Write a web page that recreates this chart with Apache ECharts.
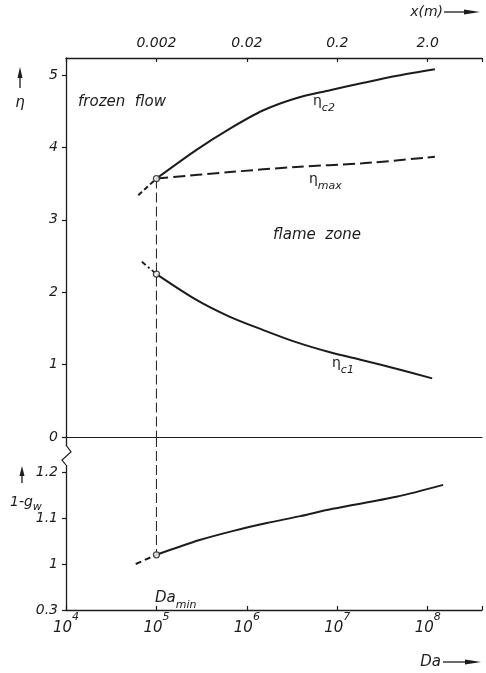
<!DOCTYPE html>
<html><head><meta charset="utf-8">
<script src="https://cdn.jsdelivr.net/npm/echarts@6/dist/echarts.min.js"></script>
<style>html,body{margin:0;padding:0;background:#fff}#c{width:486px;height:673px}</style>
</head><body><div id="c"></div>
<script>
// ---- data ----
const daC2 = [1e5, 2.8e5, 6.5e5, 1.5e6, 3.5e6, 8.3e6, 1.9e7, 4.6e7, 1.2e8];
const etaC2 = [3.57, 3.97, 4.26, 4.51, 4.68, 4.79, 4.89, 4.99, 5.08];
const daC2Ext = [6.3e4, 1e5];
const etaC2Ext = [3.34, 3.57];
const daMax = [1e5, 6.5e5, 3.5e6, 1.9e7, 1.2e8];
const etaMax = [3.57, 3.66, 3.73, 3.78, 3.87];
const daC1 = [1e5, 2.8e5, 6.5e5, 1.5e6, 3.5e6, 8.3e6, 1.9e7, 4.6e7, 1.12e8];
const etaC1 = [2.25, 1.89, 1.66, 1.48, 1.31, 1.17, 1.06, 0.94, 0.81];
const daC1Ext = [6.9e4, 1e5];
const etaC1Ext = [2.42, 2.25];
const daGw = [1e5, 3.0e5, 7.1e5, 1.66e6, 3.9e6, 8.9e6, 4.5e7, 1.48e8];
const gw = [1.02, 1.052, 1.072, 1.089, 1.104, 1.12, 1.146, 1.172];
const daGwExt = [5.9e4, 1e5];
const gwExt = [1.0, 1.02];
const daMin = 1e5;
const etaTicks = [0, 1, 2, 3, 4, 5];
const gwTicks = [0.9, 1.0, 1.1, 1.2];
const gwTickLabels = ['0.3', '1', '1.1', '1.2'];
const topTickLabels = {5: '0.002', 6: '0.02', 7: '0.2', 8: '2.0'};
const daMinAxis = 1e4, daMaxAxis = Math.pow(10, 8.6);
const etaMaxAxis = 5.235;
const gwMinAxis = 0.9, gwMaxAxis = 1.276;

const zip = (a, b) => a.map((v, i) => [v, b[i]]);
const INK = '#1c1c1c';
const FONT = 'DejaVu Sans';
const txt = {fontFamily: FONT, fontStyle: 'italic', color: INK};

function expOf(v) { const e = Math.log10(v); const r = Math.round(e); return Math.abs(e - r) < 1e-6 ? r : null; }

const chart = echarts.init(document.getElementById('c'), null, {renderer: 'canvas'});
const option = {
  backgroundColor: '#fff',
  animation: false,
  grid: [
    {left: 66, top: 58, width: 416, height: 379},
    {left: 66, top: 437, width: 416, height: 173}
  ],
  xAxis: [
    {gridIndex: 0, type: 'log', logBase: 10, min: daMinAxis, max: daMaxAxis, position: 'bottom',
     axisLine: {show: true, onZero: false, lineStyle: {color: INK, width: 1.2}},
     axisTick: {show: false}, axisLabel: {show: false}, splitLine: {show: false}},
    {gridIndex: 0, type: 'log', logBase: 10, min: daMinAxis, max: daMaxAxis, position: 'top',
     axisLine: {show: true, onZero: false, lineStyle: {color: INK, width: 1.3}},
     axisTick: {show: true, inside: true, length: 4, lineStyle: {color: INK, width: 1.2}},
     axisLabel: {show: true, margin: 8, fontSize: 14, ...txt,
       formatter: v => { const e = expOf(v); return (e !== null && topTickLabels[e]) ? topTickLabels[e] : ''; }},
     splitLine: {show: false}},
    {gridIndex: 1, type: 'log', logBase: 10, min: daMinAxis, max: daMaxAxis, position: 'bottom',
     axisLine: {show: true, onZero: false, lineStyle: {color: INK, width: 1.3}},
     axisTick: {show: true, inside: true, length: 4, lineStyle: {color: INK, width: 1.2}},
     axisLabel: {show: true, margin: 2, ...txt,
       formatter: v => { const e = expOf(v); return e === null ? '' : '{b|10}{e|' + e + '}'; },
       rich: {
         b: {fontSize: 15, fontFamily: FONT, fontStyle: 'italic', color: INK, lineHeight: 24, verticalAlign: 'bottom'},
         e: {fontSize: 11, fontFamily: FONT, fontStyle: 'italic', color: INK, lineHeight: 24, verticalAlign: 'top'}
       }},
     splitLine: {show: false}}
  ],
  yAxis: [
    {gridIndex: 0, type: 'value', min: 0, max: etaMaxAxis,
     axisLine: {show: true, onZero: false, lineStyle: {color: INK, width: 1.3}},
     axisTick: {show: true, length: 4, customValues: etaTicks, lineStyle: {color: INK, width: 1.2}},
     axisLabel: {show: true, margin: 8, fontSize: 14, ...txt, customValues: etaTicks, formatter: v => String(v)},
     splitLine: {show: false}},
    {gridIndex: 1, type: 'value', min: gwMinAxis, max: gwMaxAxis,
     axisLine: {show: true, onZero: false, lineStyle: {color: INK, width: 1.3}},
     axisTick: {show: true, length: 4, customValues: gwTicks, lineStyle: {color: INK, width: 1.2}},
     axisLabel: {show: true, margin: 8, fontSize: 14, ...txt, customValues: gwTicks,
       formatter: v => { const i = gwTicks.findIndex(t => Math.abs(t - v) < 1e-6); return i >= 0 ? gwTickLabels[i] : ''; }},
     splitLine: {show: false}}
  ],
  series: [
    {name: 'eta_c2', type: 'line', xAxisIndex: 0, yAxisIndex: 0, data: zip(daC2, etaC2), smooth: 0.3,
     symbol: 'none', lineStyle: {color: INK, width: 2}},
    {name: 'eta_c2 ext', type: 'line', xAxisIndex: 0, yAxisIndex: 0, data: zip(daC2Ext, etaC2Ext),
     symbol: 'none', lineStyle: {color: INK, width: 2, type: [5, 3]}},
    {name: 'eta_max', type: 'line', xAxisIndex: 0, yAxisIndex: 0, data: zip(daMax, etaMax), smooth: 0.3,
     symbol: 'none', lineStyle: {color: INK, width: 2, type: [12, 5]}},
    {name: 'eta_c1', type: 'line', xAxisIndex: 0, yAxisIndex: 0, data: zip(daC1, etaC1), smooth: 0.3,
     symbol: 'none', lineStyle: {color: INK, width: 2}},
    {name: 'eta_c1 ext', type: 'line', xAxisIndex: 0, yAxisIndex: 0, data: zip(daC1Ext, etaC1Ext),
     symbol: 'none', lineStyle: {color: INK, width: 1.8, type: [5, 3, 2, 3]}},
    {name: 'Da_min upper', type: 'line', xAxisIndex: 0, yAxisIndex: 0,
     data: [[daMin, etaC2[0]], [daMin, 0]], symbol: 'none', lineStyle: {color: INK, width: 1, type: [10, 4]}},
    {name: 'gw', type: 'line', xAxisIndex: 2, yAxisIndex: 1, data: zip(daGw, gw), smooth: 0.3,
     symbol: 'none', lineStyle: {color: INK, width: 2}},
    {name: 'gw ext', type: 'line', xAxisIndex: 2, yAxisIndex: 1, data: zip(daGwExt, gwExt),
     symbol: 'none', lineStyle: {color: INK, width: 2, type: [6, 4]}},
    {name: 'Da_min lower', type: 'line', xAxisIndex: 2, yAxisIndex: 1,
     data: [[daMin, gwMaxAxis], [daMin, gw[0]]], symbol: 'none', lineStyle: {color: INK, width: 1, type: [10, 4]}},
    {name: 'pts upper', type: 'scatter', xAxisIndex: 0, yAxisIndex: 0, z: 5,
     data: [[daMin, etaC2[0]], [daMin, etaC1[0]]], symbol: 'circle', symbolSize: 6,
     itemStyle: {color: '#fff', borderColor: INK, borderWidth: 1.3}},
    {name: 'pts lower', type: 'scatter', xAxisIndex: 2, yAxisIndex: 1, z: 5,
     data: [[daMin, gw[0]]], symbol: 'circle', symbolSize: 6,
     itemStyle: {color: '#fff', borderColor: INK, borderWidth: 1.3}}
  ],
  graphic: [
    // axis break on left axis
    {type: 'rect', z: 100, shape: {x: 61, y: 446, width: 11, height: 19}, style: {fill: '#fff'}},
    {type: 'polyline', z: 101, shape: {points: [[66, 445], [71, 452], [62, 460], [66, 465]]},
     style: {stroke: INK, lineWidth: 1.2, fill: null}},
    // x(m) label and arrow
    {type: 'text', z: 100, style: {text: 'x(m)', x: 443, y: 12, align: 'right', verticalAlign: 'middle',
      font: 'italic 14px "DejaVu Sans"', fill: INK}},
    {type: 'line', z: 100, shape: {x1: 444, y1: 12, x2: 468, y2: 12}, style: {stroke: INK, lineWidth: 1.3}},
    {type: 'polygon', z: 100, shape: {points: [[464, 9.5], [480, 12], [464, 14.5]]}, style: {fill: INK}},
    // eta axis title + arrow
    {type: 'line', z: 100, shape: {x1: 20, y1: 88, x2: 20, y2: 74}, style: {stroke: INK, lineWidth: 1.3}},
    {type: 'polygon', z: 100, shape: {points: [[17.5, 78], [20, 67], [22.5, 78]]}, style: {fill: INK}},
    {type: 'text', z: 100, style: {text: 'η', x: 20, y: 103, align: 'center', verticalAlign: 'middle',
      font: 'italic 15px "DejaVu Sans"', fill: INK}},
    // 1-gw title + arrow
    {type: 'line', z: 100, shape: {x1: 22, y1: 483, x2: 22, y2: 472}, style: {stroke: INK, lineWidth: 1.3}},
    {type: 'polygon', z: 100, shape: {points: [[19.5, 476], [22, 466], [24.5, 476]]}, style: {fill: INK}},
    {type: 'text', z: 100, style: {text: '{a|1-g}{s|w}', x: 10, y: 502, align: 'left', verticalAlign: 'middle',
      rich: {a: {fontSize: 14, fontFamily: FONT, fontStyle: 'italic', fill: INK, lineHeight: 22, verticalAlign: 'middle'},
             s: {fontSize: 11, fontFamily: FONT, fontStyle: 'italic', fill: INK, lineHeight: 22, verticalAlign: 'bottom'}}}},
    // region labels
    {type: 'text', z: 100, style: {text: 'frozen  flow', x: 78, y: 102, align: 'left', verticalAlign: 'middle',
      font: 'italic 15px "DejaVu Sans"', fill: INK}},
    {type: 'text', z: 100, style: {text: 'flame  zone', x: 273, y: 235, align: 'left', verticalAlign: 'middle',
      font: 'italic 15px "DejaVu Sans"', fill: INK}},
    // curve labels
    {type: 'text', z: 100, style: {text: '{a|η}{s|c2}', x: 313, y: 104, align: 'left', verticalAlign: 'middle',
      rich: {a: {fontSize: 14, fontFamily: FONT, fill: INK, lineHeight: 20, verticalAlign: 'top'},
             s: {fontSize: 11, fontFamily: FONT, fontStyle: 'italic', fill: INK, lineHeight: 20, verticalAlign: 'bottom'}}}},
    {type: 'text', z: 100, style: {text: '{a|η}{s|max}', x: 309, y: 182, align: 'left', verticalAlign: 'middle',
      rich: {a: {fontSize: 14, fontFamily: FONT, fill: INK, lineHeight: 20, verticalAlign: 'top'},
             s: {fontSize: 11, fontFamily: FONT, fontStyle: 'italic', fill: INK, lineHeight: 20, verticalAlign: 'bottom'}}}},
    {type: 'text', z: 100, style: {text: '{a|η}{s|c1}', x: 332, y: 366, align: 'left', verticalAlign: 'middle',
      rich: {a: {fontSize: 14, fontFamily: FONT, fill: INK, lineHeight: 20, verticalAlign: 'top'},
             s: {fontSize: 11, fontFamily: FONT, fontStyle: 'italic', fill: INK, lineHeight: 20, verticalAlign: 'bottom'}}}},
    {type: 'text', z: 100, style: {text: '{a|Da}{s|min}', x: 155, y: 601, align: 'left', verticalAlign: 'middle',
      rich: {a: {fontSize: 15, fontFamily: FONT, fontStyle: 'italic', fill: INK, lineHeight: 20, verticalAlign: 'top'},
             s: {fontSize: 11, fontFamily: FONT, fontStyle: 'italic', fill: INK, lineHeight: 20, verticalAlign: 'bottom'}}}},
    // Da axis title + arrow
    {type: 'text', z: 100, style: {text: 'Da', x: 441, y: 662, align: 'right', verticalAlign: 'middle',
      font: 'italic 15px "DejaVu Sans"', fill: INK}},
    {type: 'line', z: 100, shape: {x1: 443, y1: 662, x2: 468, y2: 662}, style: {stroke: INK, lineWidth: 1.3}},
    {type: 'polygon', z: 100, shape: {points: [[465, 659.5], [481, 662], [465, 664.5]]}, style: {fill: INK}}
  ]
};
chart.setOption(option);
</script>
</body></html>
